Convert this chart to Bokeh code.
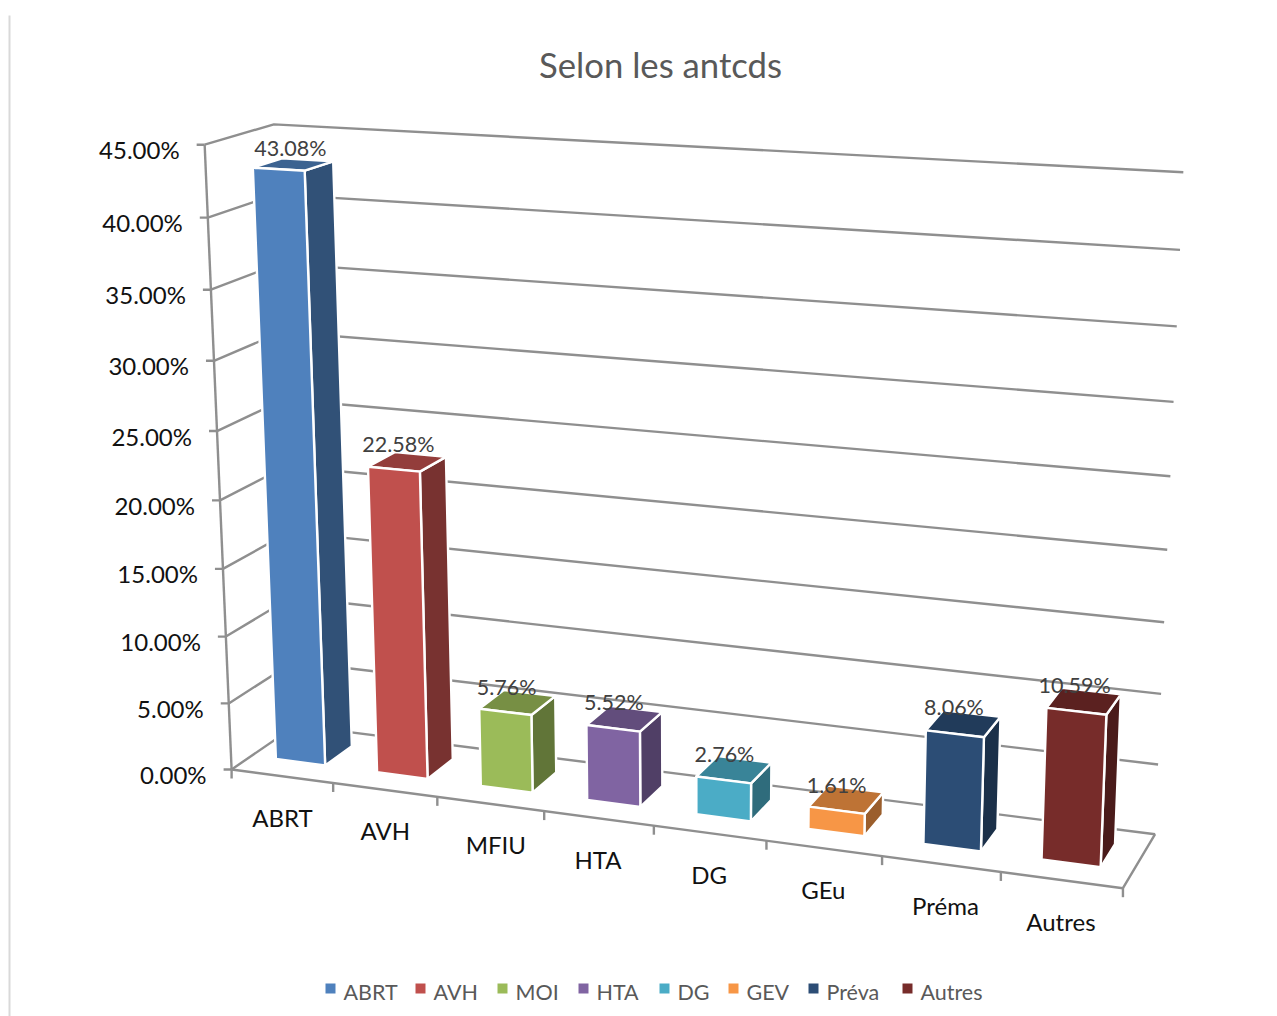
import numpy as np
from bokeh.plotting import figure
from bokeh.models import Range1d
from bokeh.core.properties import value
from bokeh.embed import file_html
from bokeh.resources import INLINE

title_text = "Selon les antcds"
categories = ["ABRT", "AVH", "MFIU", "HTA", "DG", "GEu", "Préma", "Autres"]
values = [43.08, 22.58, 5.76, 5.52, 2.76, 1.61, 8.06, 10.59]
value_labels = ["43.08%", "22.58%", "5.76%", "5.52%", "2.76%", "1.61%", "8.06%", "10.59%"]
axis_ticks = [0, 5, 10, 15, 20, 25, 30, 35, 40, 45]
axis_labels = ["0.00%", "5.00%", "10.00%", "15.00%", "20.00%", "25.00%", "30.00%", "35.00%", "40.00%", "45.00%"]
legend_names = ["ABRT", "AVH", "MOI", "HTA", "DG", "GEV", "Préva", "Autres"]
colors = ["#4F81BD", "#C0504D", "#9BBB59", "#8064A2", "#4BACC6", "#F79646", "#2C4D75", "#772C2A"]

# camera calibration: (category pos, value, depth) -> page pixel
calib = [
    (0, 0, 0, 231, 768), (0, 45, 0, 204, 144), (0, 40, 0, 207, 217), (0, 35, 0, 211, 288),
    (0, 5, 0, 229, 702), (0, 0, 1, 295, 725), (0, 45, 1, 273, 125), (8, 0, 1, 1155, 833),
    (8, 45, 1, 1183, 172), (8, 5, 1, 1158, 763), (8, 25, 1, 1170, 476), (8, 0, 0, 1122, 887),
    (1, 0, 0, 333, 783), (2, 0, 0, 437, 797), (3, 0, 0, 544, 812), (4, 0, 0, 653, 825),
    (5, 0, 0, 766, 840), (6, 0, 0, 881, 857), (7, 0, 0, 1000, 872),
]
rows = []
for u, v, w, x, y in calib:
    X = [u / 8, v / 45, w, 1]
    rows.append([*X, 0, 0, 0, 0, *[-x / 1000 * c for c in X]])
    rows.append([0, 0, 0, 0, *X, *[-y / 1000 * c for c in X]])
P = np.linalg.svd(np.array(rows))[2][-1].reshape(3, 4)


def proj(u, v, w):
    X = np.array([u / 8, v / 45, w, 1.0])
    h = P @ X
    return 1000 * h[0] / h[2], 1000 * h[1] / h[2]


def shade(c, f):
    r, g, b = [int(c[i:i + 2], 16) for i in (1, 3, 5)]
    return "#%02x%02x%02x" % (int(r * f), int(g * f), int(b * f))


W, H = 1277, 1016
p = figure(width=W, height=H, x_range=Range1d(0, W), y_range=Range1d(H, 0),
           toolbar_location=None, output_backend="svg", min_border=0,
           background_fill_color="white", border_fill_color="white")
p.axis.visible = False
p.grid.visible = False
p.outline_line_color = None

FONT = value("Lato")
GRID = "#8f8f8f"
GW = 2.4

# page rule at left
p.line([9, 9], [15, H], line_color="#d9d9d9", line_width=2)

p.text([660], [64], text=[title_text], text_font=FONT, text_font_size="34.7px", text_color="#595959",
       text_align="center", text_baseline="middle")

# walls
for t in axis_ticks:
    xs, ys = zip(proj(0, t, 0), proj(0, t, 1), proj(8, t, 1))
    p.line(list(xs), list(ys), line_color=GRID, line_width=GW)
    x0, y0 = proj(0, t, 0)
    p.line([x0 - 8, x0], [y0, y0], line_color=GRID, line_width=GW)
xs, ys = zip(proj(0, 0, 0), proj(0, 45, 0))
p.line(list(xs), list(ys), line_color=GRID, line_width=GW)
xs, ys = zip(proj(0, 0, 0), proj(8, 0, 0), proj(8, 0, 1))
p.line(list(xs), list(ys), line_color=GRID, line_width=GW)
for i in range(len(categories) + 1):
    x0, y0 = proj(i, 0, 0)
    p.line([x0, x0], [y0, y0 + 9], line_color=GRID, line_width=GW)

# bars
U0, U1, W0, W1 = 0.245, 0.735, 0.30, 0.73
for i, (v, c) in enumerate(zip(values, colors)):
    a, b = i + U0, i + U1
    front = [proj(a, 0, W0), proj(b, 0, W0), proj(b, v, W0), proj(a, v, W0)]
    side = [proj(b, 0, W0), proj(b, 0, W1), proj(b, v, W1), proj(b, v, W0)]
    top = [proj(a, v, W0), proj(b, v, W0), proj(b, v, W1), proj(a, v, W1)]
    for face, col in ((side, shade(c, 0.63)), (top, shade(c, 0.77)), (front, c)):
        xs, ys = zip(*face)
        p.patch(list(xs), list(ys), fill_color=col, line_color="white", line_width=2.4, line_join="round")

# axis labels
for t, lab in zip(axis_ticks, axis_labels):
    x0, y0 = proj(0, t, 0)
    p.text([x0 - 25], [y0 + 5], text=[lab], text_font=FONT, text_font_size="24px", text_color="#111111",
           text_align="right", text_baseline="middle")
cat_dx = [0, 0, 5, -1, -1, -1, 4, -1]
for i, lab in enumerate(categories):
    xa, ya = proj(i, 0, 0)
    xb, yb = proj(i + 1, 0, 0)
    p.text([(xa + xb) / 2 + cat_dx[i]], [(ya + yb) / 2 + 41], text=[lab], text_font=FONT, text_font_size="24px",
           text_color="#111111", text_align="center", text_baseline="middle")
label_dx = [-3, -9, -11, -11, -10, -10, -10, -10]
label_dy = [-17, -18, -16, -17, -16, -15, -17, -17]
for i, (v, lab) in enumerate(zip(values, value_labels)):
    x0, y0 = proj(i + 0.5, v, 0.5)
    p.text([x0 + label_dx[i]], [y0 + label_dy[i]], text=[lab], text_font=FONT, text_font_size="21.5px",
           text_color="#404040", text_align="center", text_baseline="middle")

# legend
legend_x = [330, 420, 502, 583, 664, 733, 813, 907]
for lx, name, c in zip(legend_x, legend_names, colors):
    p.rect([lx], [988], width=10, height=10, fill_color=c, line_color=None)
    p.text([lx + 13], [991], text=[name], text_font=FONT, text_font_size="21.5px", text_color="#595959",
           text_align="left", text_baseline="middle")

open("out.html", "w").write(file_html(p, INLINE))
